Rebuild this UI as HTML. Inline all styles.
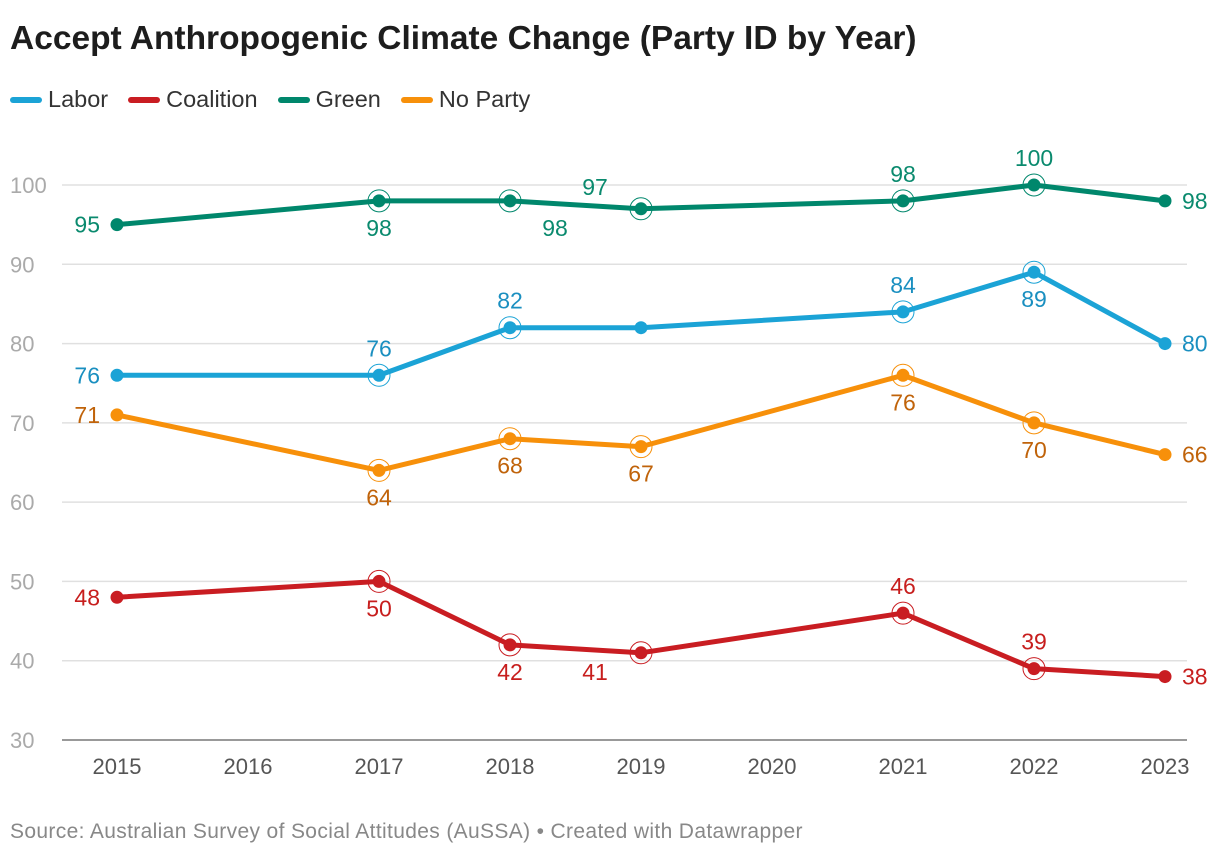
<!DOCTYPE html>
<html><head><meta charset="utf-8"><style>
body{margin:0;background:#fff;font-family:"Liberation Sans",Roboto,sans-serif;width:1220px;height:856px;overflow:hidden;position:relative}
h1{position:absolute;left:10px;top:20px;margin:0;font-size:33.5px;font-weight:bold;color:#1d1d1d}
.legend{position:absolute;left:10px;top:86px;display:flex;gap:20px;font-size:23.5px;color:#333}
.legend span{display:flex;align-items:center}
.legend i{display:inline-block;width:32px;height:6px;border-radius:3px;margin-right:6px}
.src{position:absolute;left:10px;top:820px;font-size:21px;color:#888;letter-spacing:0.35px}
</style></head><body>
<h1>Accept Anthropogenic Climate Change (Party ID by Year)</h1>
<div class="legend">
<span><i style="background:#1ba3d6"></i>Labor</span>
<span><i style="background:#c91d22"></i>Coalition</span>
<span><i style="background:#00876c"></i>Green</span>
<span><i style="background:#f7900a"></i>No Party</span>
</div>
<svg id="chart" width="1220" height="856" style="position:absolute;left:0;top:0"></svg>
<div class="src">Source: Australian Survey of Social Attitudes (AuSSA) • Created with Datawrapper</div>
<script>
const years=[2015,2017,2018,2019,2021,2022,2023];
const xTicks=[2015,2016,2017,2018,2019,2020,2021,2022,2023];
const yTicks=[30,40,50,60,70,80,90,100];
const green=[95,98,98,97,98,100,98];
const labor=[76,76,82,82,84,89,80];
const noParty=[71,64,68,67,76,70,66];
const coalition=[48,50,42,41,46,39,38];
const greenPos=['l','b','br','al','a','a','r'];
const laborPos=['l','a','a','','a','b','r'];
const noPartyPos=['l','b','b','b','b','b','r'];
const coalitionPos=['l','b','b','bl','a','a','r'];
const ringed=[false,true,true,true,true,true,false];
const laborRinged=[false,true,true,false,true,true,false];
const NS='http://www.w3.org/2000/svg';
const svg=document.getElementById('chart');
const X=y=>117+(y-2015)*131;
const Y=v=>740-(v-30)*(555/70);
function el(t,a){const e=document.createElementNS(NS,t);for(const k in a)e.setAttribute(k,a[k]);svg.appendChild(e);return e;}
yTicks.forEach(t=>{
 const l=el('line',{x1:62,x2:1187,y1:Y(t),y2:Y(t),stroke:t===30?'#333':'#e0e0e0','stroke-width':t===30?1:1.5});
 
 
 const tx=el('text',{x:10,y:Y(t)+8,'font-size':22,fill:'#aaa','font-family':'Liberation Sans, sans-serif'});
 tx.textContent=t;
 
 
});
xTicks.forEach(t=>{
 const tx=el('text',{x:X(t),y:774,'font-size':22,fill:'#555','text-anchor':'middle','font-family':'Liberation Sans, sans-serif'});
 tx.textContent=t;
 
 
});
function series(name,vals,pos,col,tcol,rings){
 const p=el('polyline',{points:vals.map((v,i)=>X(years[i])+','+Y(v)).join(' '),fill:'none',stroke:col,'stroke-width':5,'stroke-linejoin':'round','stroke-linecap':'round'});
 
 
 vals.forEach((v,i)=>{
  const cx=X(years[i]),cy=Y(v);
  if(rings[i]){el('circle',{cx,cy,r:11,fill:'none',stroke:col,'stroke-width':1});}
  const c=el('circle',{cx,cy,r:6.5,fill:col});
  
  
  const ps=pos[i];if(!ps)return;
  let tx=cx,ty=cy+8,anc='middle';
  if(ps==='l'){tx=cx-17;anc='end';}
  else if(ps==='r'){tx=cx+17;anc='start';}
  else if(ps==='a'){ty=cy-19;}
  else if(ps==='b'){ty=cy+35;}
  else if(ps==='br'){tx=cx+45;ty=cy+35;}
  else if(ps==='al'){tx=cx-46;ty=cy-14;}
  else if(ps==='bl'){tx=cx-46;ty=cy+27;}
  const t=el('text',{x:tx,y:ty,'font-size':23,fill:tcol,'text-anchor':anc,'font-family':'Liberation Sans, sans-serif'});
  t.textContent=v;
  
  
 });
}
series('green',green,greenPos,'#00876c','#0a8a6e',ringed);
series('labor',labor,laborPos,'#1ba3d6','#1a8fc0',laborRinged);
series('no-party',noParty,noPartyPos,'#f7900a','#c0630a',ringed);
series('coalition',coalition,coalitionPos,'#c91d22','#c71e1d',ringed);
</script>
</body></html>
